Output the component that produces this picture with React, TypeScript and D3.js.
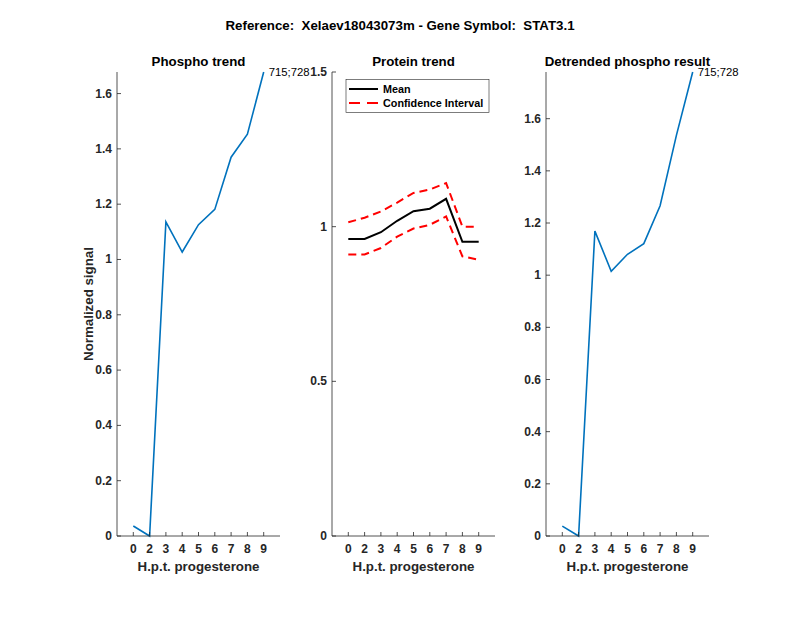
import React from "react";
import * as d3 from "d3";

const xPositions = [1, 2, 3, 4, 5, 6, 7, 8, 9];
const xTickLabels = ["0", "2", "3", "4", "5", "6", "7", "8", "9"];

const phosphoTrend = [0.036, 0.0, 1.136, 1.027, 1.126, 1.181, 1.37, 1.453, 1.678];
const proteinMean = [0.96, 0.96, 0.982, 1.019, 1.05, 1.058, 1.09, 0.951, 0.951];
const proteinUpper = [1.014, 1.029, 1.049, 1.078, 1.109, 1.12, 1.141, 1.0, 1.0];
const proteinLower = [0.91, 0.91, 0.931, 0.968, 0.994, 1.006, 1.033, 0.904, 0.893];
const detrended = [0.038, 0.0, 1.169, 1.015, 1.08, 1.121, 1.266, 1.536, 1.779];

const yTicks1 = [0, 0.2, 0.4, 0.6, 0.8, 1, 1.2, 1.4, 1.6];
const yTicks2 = [0, 0.5, 1, 1.5];
const yTicks3 = [0, 0.2, 0.4, 0.6, 0.8, 1, 1.2, 1.4, 1.6];

const pointLabel = "715;728";
const mainTitle = "Reference:  Xelaev18043073m - Gene Symbol:  STAT3.1";

const FONT = "'Liberation Sans', Arial, Helvetica, sans-serif";
const AX = "#262626";
const TOP = 72;
const BOTTOM = 536;

type Series = { values: number[]; color: string; width: number; dash?: string };

function Panel(props: {
  left: number;
  right: number;
  ymax: number;
  yTicks: number[];
  title: string;
  series: Series[];
  label?: { text: string; value: number };
  ylabel?: string;
  legend?: boolean;
}) {
  const { left, right, ymax, yTicks, title, series, label, ylabel, legend } = props;
  const x = d3.scaleLinear().domain([0, 10]).range([left, right]);
  const y = d3.scaleLinear().domain([0, ymax]).range([BOTTOM, TOP]);
  const line = d3
    .line<number>()
    .x((_, i) => x(xPositions[i]))
    .y((d) => y(d));
  const fmt = (v: number) => (Number.isInteger(v) ? String(v) : String(+v.toFixed(2)));
  const cx = (left + right) / 2;
  return (
    <g>
      {series.map((s, i) => (
        <path
          key={i}
          d={line(s.values) || ""}
          fill="none"
          stroke={s.color}
          strokeWidth={s.width}
          strokeDasharray={s.dash}
        />
      ))}
      <line x1={left} x2={right} y1={BOTTOM} y2={BOTTOM} stroke={AX} strokeWidth={0.8} />
      <line x1={left} x2={left} y1={TOP} y2={BOTTOM} stroke={AX} strokeWidth={0.8} />
      {xPositions.map((p, i) => (
        <g key={i}>
          <line x1={x(p)} x2={x(p)} y1={BOTTOM} y2={BOTTOM - 4} stroke={AX} strokeWidth={0.8} />
          <text
            x={x(p)}
            y={BOTTOM + 13}
            textAnchor="middle"
            dominantBaseline="central"
            fontFamily={FONT}
            fontSize={12}
            fontWeight="bold"
            fill={AX}
          >
            {xTickLabels[i]}
          </text>
        </g>
      ))}
      {yTicks.map((t, i) => (
        <g key={i}>
          <line x1={left} x2={left + 4} y1={y(t)} y2={y(t)} stroke={AX} strokeWidth={0.8} />
          <text
            x={left - 5}
            y={y(t)}
            textAnchor="end"
            dominantBaseline="central"
            fontFamily={FONT}
            fontSize={12}
            fontWeight="bold"
            fill={AX}
          >
            {fmt(t)}
          </text>
        </g>
      ))}
      <text
        x={cx}
        y={61}
        textAnchor="middle"
        dominantBaseline="central"
        fontFamily={FONT}
        fontSize={13.3}
        fontWeight="bold"
        fill="#000"
      >
        {title}
      </text>
      <text
        x={cx}
        y={566}
        textAnchor="middle"
        dominantBaseline="central"
        fontFamily={FONT}
        fontSize={13.3}
        fontWeight="bold"
        fill={AX}
      >
        H.p.t. progesterone
      </text>
      {ylabel && (
        <text
          transform={`translate(${left - 29},${(TOP + BOTTOM) / 2}) rotate(-90)`}
          textAnchor="middle"
          dominantBaseline="central"
          fontFamily={FONT}
          fontSize={13.3}
          fontWeight="bold"
          fill={AX}
        >
          {ylabel}
        </text>
      )}
      {label && (
        <text
          x={x(9) + 5}
          y={y(label.value)}
          dominantBaseline="central"
          fontFamily={FONT}
          fontSize={11.3}
          fill="#000"
        >
          {label.text}
        </text>
      )}
      {legend && (
        <g>
          <rect x={346} y={79.5} width={143} height={33} fill="#fff" stroke={AX} strokeWidth={0.6} />
          <line x1={349} x2={378} y1={89} y2={89} stroke="#000" strokeWidth={2} />
          <text x={383} y={89} dominantBaseline="central" fontFamily={FONT} fontSize={10.8} fontWeight="bold" fill="#000">
            Mean
          </text>
          <line x1={349} x2={378} y1={103} y2={103} stroke="#ff0000" strokeWidth={2} strokeDasharray="11,7" />
          <text x={383} y={103} dominantBaseline="central" fontFamily={FONT} fontSize={10.8} fontWeight="bold" fill="#000">
            Confidence Interval
          </text>
        </g>
      )}
    </g>
  );
}

export default function App() {
  return (
    <svg width={800} height={618} style={{ position: "absolute", left: 0, top: 0, background: "#fff" }}>
      <rect x={0} y={0} width={800} height={618} fill="#fff" />
      <text
        x={400}
        y={25}
        textAnchor="middle"
        dominantBaseline="central"
        fontFamily={FONT}
        fontSize={13.3}
        fontWeight="bold"
        fill="#000"
        style={{ whiteSpace: "pre" }}
      >
        {mainTitle}
      </text>
      <Panel
        left={117}
        right={280}
        ymax={d3.max(phosphoTrend) as number}
        yTicks={yTicks1}
        title="Phospho trend"
        series={[{ values: phosphoTrend, color: "#0072BD", width: 1.6 }]}
        label={{ text: pointLabel, value: phosphoTrend[8] }}
        ylabel="Normalized signal"
      />
      <Panel
        left={332}
        right={495}
        ymax={1.5}
        yTicks={yTicks2}
        title="Protein trend"
        series={[
          { values: proteinMean, color: "#000", width: 2 },
          { values: proteinUpper, color: "#ff0000", width: 2, dash: "8,5" },
          { values: proteinLower, color: "#ff0000", width: 2, dash: "8,5" },
        ]}
        legend
      />
      <Panel
        left={546}
        right={709}
        ymax={d3.max(detrended) as number}
        yTicks={yTicks3}
        title="Detrended phospho result"
        series={[{ values: detrended, color: "#0072BD", width: 1.6 }]}
        label={{ text: pointLabel, value: detrended[8] }}
      />
    </svg>
  );
}
